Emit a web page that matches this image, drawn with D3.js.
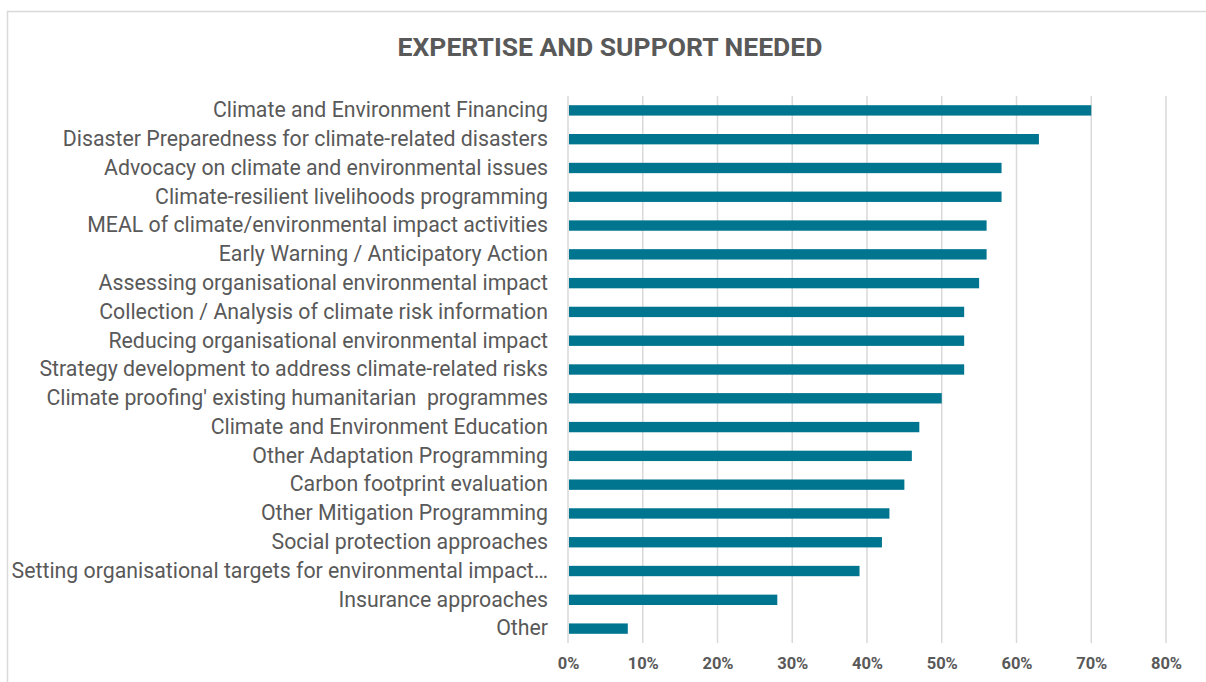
<!DOCTYPE html>
<html>
<head>
<meta charset="utf-8">
<script src="https://cdn.jsdelivr.net/npm/d3@7"></script>
<style>
  html, body { margin: 0; padding: 0; background: #fff; }
  svg { display: block; font-family: Roboto, "Noto Sans", sans-serif; }
</style>
</head>
<body>
<svg id="chart" width="1206" height="682"></svg>
<script>
// Share of respondents needing each type of expertise / support
const categories = [
  "Climate and Environment Financing",
  "Disaster Preparedness for climate-related disasters",
  "Advocacy on climate and environmental issues",
  "Climate-resilient livelihoods programming",
  "MEAL of climate/environmental impact activities",
  "Early Warning / Anticipatory Action",
  "Assessing organisational environmental impact",
  "Collection / Analysis of climate risk information",
  "Reducing organisational environmental impact",
  "Strategy development to address climate-related risks",
  "Climate proofing' existing humanitarian  programmes",
  "Climate and Environment Education",
  "Other Adaptation Programming",
  "Carbon footprint evaluation",
  "Other Mitigation Programming",
  "Social protection approaches",
  "Setting organisational targets for environmental impact…",
  "Insurance approaches",
  "Other"
];
const values = [0.70, 0.63, 0.58, 0.58, 0.56, 0.56, 0.55, 0.53, 0.53, 0.53,
                0.50, 0.47, 0.46, 0.45, 0.43, 0.42, 0.39, 0.28, 0.08];
const tickValues = [0, 0.1, 0.2, 0.3, 0.4, 0.5, 0.6, 0.7, 0.8];
const title = "EXPERTISE AND SUPPORT NEEDED";

const svg = d3.select("#chart");

// Outer chart frame
svg.append("rect")
  .attr("x", 7.5).attr("y", 11.5)
  .attr("width", 1210).attr("height", 700)
  .attr("fill", "#fff")
  .attr("stroke", "#d9d9d9").attr("stroke-width", 1.5);

svg.append("text")
  .attr("x", 610).attr("y", 56)
  .attr("text-anchor", "middle")
  .attr("font-size", 26.5).attr("font-weight", 700)
  .attr("fill", "#595959")
  .text(title);

const plot = { left: 568, right: 1166, top: 96, bottom: 643 };

const x = d3.scaleLinear().domain([0, 0.8]).range([plot.left, plot.right]);
const y = d3.scaleBand().domain(categories)
  .range([plot.top, plot.bottom]).paddingInner(0.64).paddingOuter(0.32);

// Vertical gridlines
svg.append("g")
  .selectAll("line")
  .data(tickValues)
  .join("line")
  .attr("x1", d => x(d)).attr("x2", d => x(d))
  .attr("y1", plot.top).attr("y2", plot.bottom)
  .attr("stroke", "#d9d9d9").attr("stroke-width", 1.5);

// Bars
svg.append("g")
  .selectAll("rect")
  .data(categories)
  .join("rect")
  .attr("x", x(0) + 1)
  .attr("y", d => y(d))
  .attr("width", (d, i) => x(values[i]) - x(0) - 1)
  .attr("height", y.bandwidth())
  .attr("fill", "#00758f");

// Category axis
const yAxis = svg.append("g")
  .attr("transform", `translate(${plot.left - 20},0)`)
  .call(d3.axisLeft(y).tickSize(0).tickPadding(0));
yAxis.select(".domain").remove();
yAxis.selectAll("text")
  .attr("font-size", 21.3)
  .attr("font-family", "Roboto, sans-serif")
  .attr("fill", "#595959")
  .style("white-space", "pre");

// Percentage axis
const xAxis = svg.append("g")
  .attr("transform", `translate(0,${plot.bottom})`)
  .call(d3.axisBottom(x).tickValues(tickValues).tickFormat(d3.format(".0%")).tickSize(0).tickPadding(14));
xAxis.select(".domain").remove();
xAxis.selectAll("text")
  .attr("font-size", 16.5)
  .attr("font-weight", 700)
  .attr("font-family", "Roboto, sans-serif")
  .attr("fill", "#595959");
</script>
</body>
</html>
